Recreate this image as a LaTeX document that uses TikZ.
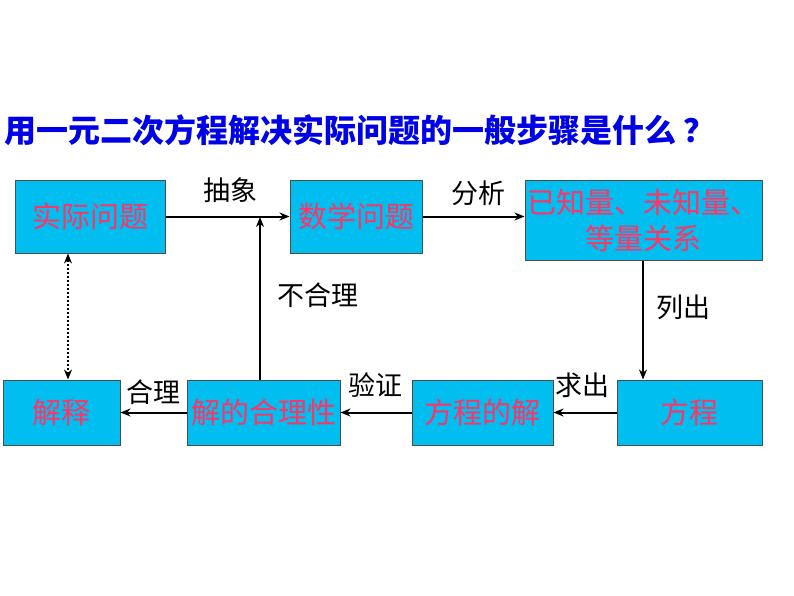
\documentclass[tikz,border=0pt]{standalone}
\usepackage{fontspec}
\usetikzlibrary{arrows.meta}
\newfontfamily\cjk{Noto Sans CJK SC}
\definecolor{boxfill}{RGB}{0,190,240}
\definecolor{boxtext}{RGB}{255,51,102}
\definecolor{titleblue}{RGB}{0,0,230}
\begin{document}
\begin{tikzpicture}[x=1pt,y=-1pt,
  bx/.style={draw=black!70,line width=1pt,fill=boxfill,text=boxtext,font=\cjk\fontsize{29}{36}\selectfont,inner sep=0pt,align=center},
  lb/.style={font=\cjk\fontsize{27}{30}\selectfont,text=black},
  ar/.style={-{Stealth[length=10pt,width=8pt]},line width=2pt}]
\useasboundingbox (0,0) rectangle (794,596);
\node[font=\cjk\bfseries\fontsize{32}{36}\selectfont,text=titleblue,anchor=west,inner sep=0pt] (title) at (4,130) {用一元二次方程解决实际问题的一般步骤是什么 ？};
\node[bx,minimum width=150,minimum height=73] (a) at (90,216.5) {实际问题};
\node[bx,minimum width=132,minimum height=73] (b) at (356,216.5) {数学问题};
\node[bx,minimum width=237,minimum height=80] (c) at (643.5,220) {已知量、未知量、\\等量关系};
\node[bx,minimum width=145,minimum height=65] (d) at (689.5,412.5) {方程};
\node[bx,minimum width=141,minimum height=65] (e) at (482.5,412.5) {方程的解};
\node[bx,minimum width=153,minimum height=65] (f) at (263.5,412.5) {解的合理性};
\node[bx,minimum width=117,minimum height=65] (g) at (61.5,412.5) {解释};
\coordinate (m) at (260,217);
\coordinate (dx) at (68,0);
\coordinate (vx) at (643,0);
\draw[ar] (a.east) -- (b.west);
\draw[ar] (b.east) -- (c.west|-b.east);
\draw[ar] (c.south-|vx) -- (d.north-|vx);
\draw[ar] (d.west) -- (e.east);
\draw[ar] (e.west) -- (f.east);
\draw[ar] (f.west) -- (g.east);
\draw[ar] (f.north-|m) -- (m);
\draw[{Stealth[length=10pt,width=8pt]}-{Stealth[length=10pt,width=8pt]},line width=2pt,dotted] (a.south-|dx) -- (g.north-|dx);
\node[lb] (l1) at (230,190) {抽象};
\node[lb] (l2) at (478,193) {分析};
\node[lb] (l3) at (318,295) {不合理};
\node[lb] (l4) at (683,307) {列出};
\node[lb] (l5) at (582,385) {求出};
\node[lb] (l6) at (375,385) {验证};
\node[lb] (l7) at (153,392) {合理};
\end{tikzpicture}
\end{document}
